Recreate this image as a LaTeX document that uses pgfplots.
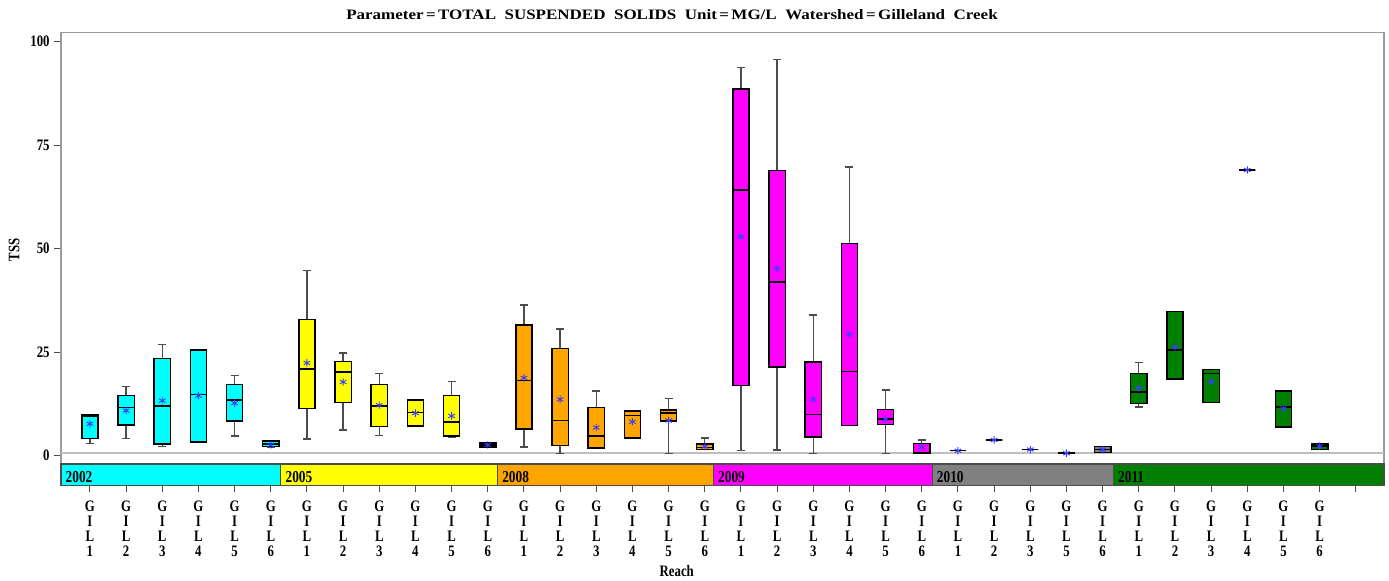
\documentclass[border=0pt]{standalone}
\usepackage{fontspec}
\setmainfont{Liberation Serif}[FakeStretch=0.8]
\newfontfamily\titlefont{Liberation Serif}[FakeStretch=1.18]
\usepackage{pgfplots}
\pgfplotsset{compat=1.18}
\usepgfplotslibrary{statistics}
\definecolor{cCyan}{HTML}{00FFFF}
\definecolor{cYellow}{HTML}{FFFF00}
\definecolor{cOrange}{HTML}{FFA500}
\definecolor{cMagenta}{HTML}{FF00FF}
\definecolor{cGray}{HTML}{808080}
\definecolor{cGreen}{HTML}{008000}
\definecolor{meanblue}{HTML}{3C3CFF}
\definecolor{frameC}{HTML}{9A9A9A}
\newcommand{\bx}[7]{\addplot[fill=#7, draw=black, line width=1.1pt,
  boxplot prepared={draw position=#1, lower whisker=#2, lower quartile=#3,
  median=#4, upper quartile=#5, upper whisker=#6}] coordinates {};}
\newcommand{\band}[3]{\addplot[fill=#3, draw=black!70, line width=0.8pt] coordinates {(#1,-2.0)(#2,-2.0)(#2,-7.2)(#1,-7.2)} -- cycle;}
\newcommand{\g}[1]{G\\I\\L\\#1}
\begin{document}
\begin{tikzpicture}
\begin{axis}[name=ax, scale only axis, width=992.25pt, height=339.75pt,
  xmin=-0.8, xmax=35.78, ymin=-7.2, ymax=102.2,
  axis line style={frameC, line width=1pt},
  tick pos=left, tick align=outside, major tick length=5pt,
  tick style={black!70, line width=0.8pt},
  ytick={0,25,50,75,100},
  xtick={0,...,35},
  xticklabels={\g1,\g2,\g3,\g4,\g5,\g6,\g1,\g2,\g3,\g4,\g5,\g6,\g1,\g2,\g3,\g4,\g5,\g6,\g1,\g2,\g3,\g4,\g5,\g6,\g1,\g2,\g3,\g5,\g6,\g1,\g2,\g3,\g4,\g5,\g6,{}},
  /pgf/number format/assume math mode=true,
  yticklabel style={font=\fontsize{12}{12}\selectfont\bfseries},
  xticklabel style={align=center, font=\fontsize{12}{11.25}\selectfont\bfseries, anchor=north, yshift=-3pt},
  boxplot/draw direction=y,
  boxplot/box extend=0.45, boxplot/whisker extend=0.22,
  boxplot/every whisker/.style={draw=black!70, line width=1pt},
  boxplot/every median/.style={draw=black, line width=1.1pt},
  clip=false]
\addplot[color=black!25, line width=1.3pt] coordinates {(-0.8,0.72)(35.78,0.72)};
\band{-0.8}{5.28}{cCyan}
\band{5.28}{11.27}{cYellow}
\band{11.27}{17.24}{cOrange}
\band{17.24}{23.29}{cMagenta}
\band{23.29}{28.3}{cGray}
\band{28.3}{35.78}{cGreen}
\node[anchor=west, font=\fontsize{12.5}{12.5}\selectfont\bfseries] at (axis cs:-0.8,-5.1) {2002};
\node[anchor=west, font=\fontsize{12.5}{12.5}\selectfont\bfseries] at (axis cs:5.28,-5.1) {2005};
\node[anchor=west, font=\fontsize{12.5}{12.5}\selectfont\bfseries] at (axis cs:11.27,-5.1) {2008};
\node[anchor=west, font=\fontsize{12.5}{12.5}\selectfont\bfseries] at (axis cs:17.24,-5.1) {2009};
\node[anchor=west, font=\fontsize{12.5}{12.5}\selectfont\bfseries] at (axis cs:23.29,-5.1) {2010};
\node[anchor=west, font=\fontsize{12.5}{12.5}\selectfont\bfseries] at (axis cs:28.3,-5.1) {2011};
% 2002
\bx{0}{3.0}{4.2}{9.6}{9.9}{10.0}{cCyan}
\bx{1}{4.2}{7.4}{11.7}{14.6}{16.7}{cCyan}
\bx{2}{2.2}{2.8}{12.0}{23.5}{26.9}{cCyan}
\bx{3}{3.3}{3.3}{14.8}{25.5}{25.5}{cCyan}
\bx{4}{4.8}{8.4}{13.5}{17.2}{19.4}{cCyan}
\bx{5}{2.0}{2.2}{2.8}{3.5}{3.6}{cCyan}
% 2005
\bx{6}{4.0}{11.4}{20.9}{32.9}{44.8}{cYellow}
\bx{7}{6.2}{12.9}{20.2}{22.8}{24.8}{cYellow}
\bx{8}{4.9}{7.0}{12.0}{17.2}{19.8}{cYellow}
\bx{9}{7.2}{7.2}{10.4}{13.5}{13.5}{cYellow}
\bx{10}{4.5}{4.8}{8.1}{14.6}{18.0}{cYellow}
\bx{11}{2.0}{2.1}{2.6}{3.1}{3.2}{cYellow}
% 2008
\bx{12}{2.1}{6.4}{18.2}{31.6}{36.4}{cOrange}
\bx{13}{0.5}{2.5}{8.5}{25.9}{30.6}{cOrange}
\bx{14}{1.9}{1.9}{4.8}{11.6}{15.6}{cOrange}
\bx{15}{4.3}{4.3}{9.7}{10.8}{10.8}{cOrange}
\bx{16}{0.5}{8.4}{10.3}{11.0}{13.8}{cOrange}
\bx{17}{1.5}{1.5}{2.0}{2.8}{4.3}{cOrange}
% 2009
\bx{18}{1.2}{16.9}{64.2}{88.6}{93.7}{cMagenta}
\bx{19}{1.4}{21.4}{41.9}{68.9}{95.7}{cMagenta}
\bx{20}{0.5}{4.5}{9.9}{22.6}{34.0}{cMagenta}
\bx{21}{7.3}{7.3}{20.3}{51.2}{69.7}{cMagenta}
\bx{22}{0.5}{7.5}{8.9}{11.2}{15.9}{cMagenta}
\bx{23}{0.6}{0.65}{0.8}{3.0}{3.8}{cMagenta}
% 2010
\bx{24}{1.2}{1.2}{1.2}{1.2}{1.2}{cGray}
\bx{25}{3.8}{3.8}{3.8}{3.8}{3.8}{cGray}
\bx{26}{1.5}{1.5}{1.5}{1.5}{1.5}{cGray}
\bx{27}{0.6}{0.6}{0.6}{0.6}{0.6}{cGray}
\bx{28}{0.8}{0.8}{1.5}{2.2}{2.2}{cGray}
% 2011
\bx{29}{11.8}{12.6}{15.4}{19.9}{22.5}{cGreen}
\bx{30}{18.5}{18.5}{25.5}{34.8}{34.8}{cGreen}
\bx{31}{12.9}{12.9}{19.9}{20.8}{20.8}{cGreen}
\bx{32}{69.0}{69.0}{69.0}{69.0}{69.0}{cGreen}
\bx{33}{6.9}{6.9}{11.8}{15.6}{15.6}{cGreen}
\bx{34}{1.5}{1.5}{2.3}{2.8}{2.8}{cGreen}
% means
\addplot[only marks, mark=asterisk, mark size=2.8pt, meanblue, line width=0.7pt] coordinates {
(0,7.7)(1,10.9)(2,13.3)(3,14.5)(4,12.7)(5,2.6)
(6,22.4)(7,17.8)(8,12.2)(9,10.3)(10,9.6)(11,2.6)
(12,18.8)(13,13.6)(14,6.8)(15,8.2)(16,8.5)(17,2.2)
(18,52.9)(19,45.2)(20,13.6)(21,29.3)(22,8.8)(23,2.1)
(24,1.2)(25,3.8)(26,1.5)(27,0.6)(28,1.5)
(29,16.3)(30,26.2)(31,17.9)(32,69.0)(33,11.4)(34,2.3)};
\end{axis}
\node[font=\fontsize{10.8}{10.8}\titlefont\bfseries] at ([xshift=458.25pt, yshift=13.1pt]ax.north west) {Parameter\,=\,TOTAL\ \ SUSPENDED\ \ SOLIDS\ \ Unit\,=\,MG/L\ \ Watershed\,=\,Gilleland\ \ Creek};
\node[rotate=90, font=\fontsize{12}{12}\selectfont\bfseries] at ([xshift=-35.1pt, yshift=-163.1pt]ax.north west) {TSS};
\node[font=\fontsize{12}{12}\selectfont\bfseries] at ([xshift=461.8pt, yshift=-63.9pt]ax.south west) {Reach};
\pgfresetboundingbox
\path ([xshift=-45.75pt, yshift=-71.6pt]ax.south west) rectangle ([xshift=3.75pt, yshift=24.4pt]ax.north east);
\end{tikzpicture}
\end{document}
